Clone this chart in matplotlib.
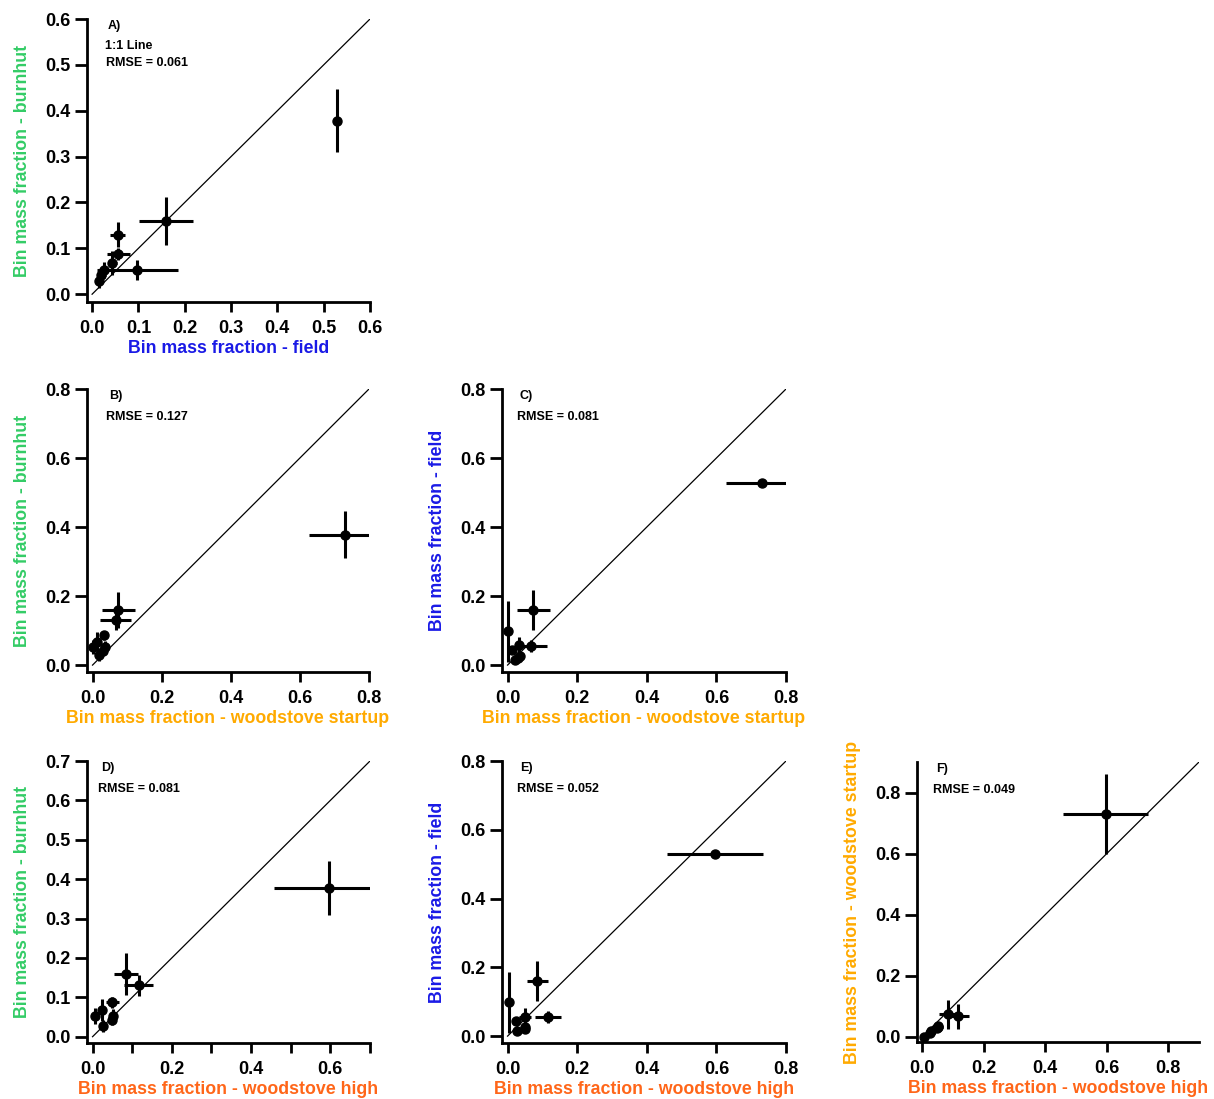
import matplotlib
matplotlib.use("Agg")
import matplotlib.pyplot as plt
import numpy as np

plt.rcParams['font.family'] = ['Liberation Sans', 'DejaVu Sans']
plt.rcParams['font.weight'] = 'bold'

# bin mass fractions (9 size bins) for each source, with uncertainties
burnhut = [0.378, 0.160, 0.130, 0.053, 0.087, 0.068, 0.053, 0.042, 0.028]
burnhut_err = [0.069, 0.053, 0.027, 0.021, 0.013, 0.027, 0.018, 0.012, 0.015]
field = [0.529, 0.160, 0.055, 0.098, 0.057, 0.044, 0.026, 0.020, 0.014]
field_err = [0.005, 0.058, 0.017, 0.088, 0.025, 0.010, 0.012, 0.010, 0.006]
startup = [0.731, 0.074, 0.067, 0.000, 0.032, 0.014, 0.035, 0.030, 0.020]
startup_err = [0.104, 0.048, 0.045, 0.004, 0.010, 0.008, 0.010, 0.008, 0.006]
startup_err_f = [0.131, 0.047, 0.042, 0.003, 0.006, 0.004, 0.006, 0.005, 0.004]
high = [0.596, 0.085, 0.116, 0.005, 0.050, 0.024, 0.051, 0.049, 0.027]
high_err = [0.137, 0.030, 0.037, 0.004, 0.017, 0.008, 0.006, 0.006, 0.005]

rmse = {'A': 0.061, 'B': 0.127, 'C': 0.081, 'D': 0.081, 'E': 0.052, 'F': 0.049}

c_burnhut = '#33CC66'
c_field = '#1A1AE6'
c_startup = '#FFAA00'
c_high = '#FF6619'

lab_burnhut = 'Bin mass fraction - burnhut'
lab_field = 'Bin mass fraction - field'
lab_startup = 'Bin mass fraction - woodstove startup'
lab_high = 'Bin mass fraction - woodstove high'

W, H = 1214, 1099
fig = plt.figure(figsize=(W / 100, H / 100), dpi=100)


def make_axes(x0, y0, x1, y1):
    return fig.add_axes([x0 / W, 1 - y1 / H, (x1 - x0) / W, (y1 - y0) / H])


# panel: id, box(px), x data, y data, labels, limits, tick steps
panels = [
    ('A', (87, 19, 370, 302), field, field_err, burnhut, burnhut_err,
     lab_field, c_field, lab_burnhut, c_burnhut, 0.6, (-0.011, -0.017), 0.1, 0.1, 1),
    ('B', (87, 389, 369, 672), startup, startup_err, burnhut, burnhut_err,
     lab_startup, c_startup, lab_burnhut, c_burnhut, 0.8, (-0.016, -0.02), 0.2, 0.2, 1),
    ('C', (502, 389, 786, 672), startup, startup_err, field, field_err,
     lab_startup, c_startup, lab_field, c_field, 0.8, (-0.016, -0.02), 0.2, 0.2, 1),
    ('D', (87, 761, 370, 1043), high, high_err, burnhut, burnhut_err,
     lab_high, c_high, lab_burnhut, c_burnhut, 0.7, (-0.014, -0.016), 0.1, 0.1, 2),
    ('E', (502, 761, 786, 1043), high, high_err, field, field_err,
     lab_high, c_high, lab_field, c_field, 0.8, (-0.016, -0.02), 0.2, 0.2, 1),
    ('F', (917, 762, 1199, 1042), high, high_err, startup, startup_err_f,
     lab_high, c_high, lab_startup, c_startup, 0.9, (-0.017, -0.017), 0.2, 0.2, 1),
]

for (pid, box, x, xe, y, ye, xl, xc, yl, yc, lim, lows, xstep, ystep, xlabevery) in panels:
    ax = make_axes(*box)
    ax.plot([0, lim], [0, lim], color='black', lw=0.9, zorder=1)
    ax.errorbar(x, y, xerr=xe, yerr=ye, fmt='o', color='black', ms=6.5,
                elinewidth=2.2, capsize=0, zorder=2)
    ax.set_xlim(lows[0], lim)
    ax.set_ylim(lows[1], lim)

    xt = np.round(np.arange(0, lim + 1e-9, xstep), 2)
    yt = np.round(np.arange(0, lim + 1e-9, ystep), 2)
    if pid == 'F':
        xt = xt[xt <= 0.8]
        yt = yt[yt <= 0.8]
    ax.set_xticks(xt)
    ax.set_xticklabels([f'{v:.1f}' if i % xlabevery == 0 else '' for i, v in enumerate(xt)])
    ax.set_yticks(yt)
    ax.set_yticklabels([f'{v:.1f}' for v in yt])

    for s in ['top', 'right']:
        ax.spines[s].set_visible(False)
    for s in ['left', 'bottom']:
        ax.spines[s].set_linewidth(2)
    ax.tick_params(axis='both', direction='out', width=2, labelsize=13)
    ax.tick_params(axis='y', length=9, pad=3)
    ax.tick_params(axis='x', length=7, pad=6)
    for t in ax.get_xticklabels() + ax.get_yticklabels():
        t.set_fontweight('bold')

    ax.set_xlabel(xl, color=xc, fontsize=12.8, fontweight='bold')
    ax.set_ylabel(yl, color=yc, fontsize=12.8, fontweight='bold')
    ax.xaxis.set_label_coords(0.5, -0.134)
    ax.yaxis.set_label_coords(-0.198, 0.5)

    tx = {'A': 0.067, 'B': 0.072, 'C': 0.057, 'D': 0.044, 'E': 0.058, 'F': 0.062}[pid]
    ax.text(tx + 0.005, 0.975, pid + ')', transform=ax.transAxes, fontsize=9,
            fontweight='bold', va='center', ha='left')
    if pid == 'A':
        ax.text(tx - 0.005, 0.905, '1:1 Line', transform=ax.transAxes, fontsize=9,
                fontweight='bold', va='center', ha='left')
        ax.text(tx, 0.845, f'RMSE = {rmse[pid]:.3f}', transform=ax.transAxes,
                fontsize=9, fontweight='bold', va='center', ha='left')
    else:
        ax.text(tx - 0.005, 0.9, f'RMSE = {rmse[pid]:.3f}', transform=ax.transAxes,
                fontsize=9, fontweight='bold', va='center', ha='left')

fig.savefig('out.png', dpi=100)
